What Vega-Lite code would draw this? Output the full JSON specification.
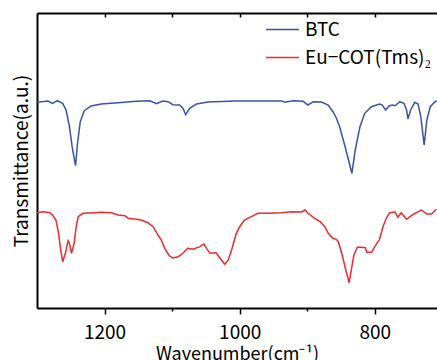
{
  "$schema": "https://vega.github.io/schema/vega-lite/v6.json",
  "width": 400,
  "height": 295,
  "autosize": {"type": "none"},
  "padding": {"left": 37, "top": 13, "right": 0, "bottom": 52},
  "background": "white",
  "config": {
    "view": {"stroke": null},
    "font": "Noto Sans CJK JP",
    "axis": {"grid": false, "domainColor": "black", "domainWidth": 2, "tickColor": "black", "tickWidth": 1.5, "labelColor": "black", "titleColor": "black", "labelFont": "Noto Sans CJK JP", "titleFont": "Noto Sans CJK JP", "titleFontWeight": "normal"}
  },
  "data": {
    "values": [
      {"wn": 1300, "t": 205.7, "s": "BTC"},
      {"wn": 1284, "t": 207, "s": "BTC"},
      {"wn": 1277, "t": 204.7, "s": "BTC"},
      {"wn": 1270, "t": 207.3, "s": "BTC"},
      {"wn": 1262, "t": 204.7, "s": "BTC"},
      {"wn": 1257, "t": 198, "s": "BTC"},
      {"wn": 1252, "t": 181.3, "s": "BTC"},
      {"wn": 1248, "t": 161.3, "s": "BTC"},
      {"wn": 1243, "t": 142.3, "s": "BTC"},
      {"wn": 1240, "t": 165, "s": "BTC"},
      {"wn": 1236, "t": 186.3, "s": "BTC"},
      {"wn": 1230, "t": 197.3, "s": "BTC"},
      {"wn": 1220, "t": 202, "s": "BTC"},
      {"wn": 1205, "t": 204, "s": "BTC"},
      {"wn": 1180, "t": 205.3, "s": "BTC"},
      {"wn": 1153, "t": 206.7, "s": "BTC"},
      {"wn": 1133, "t": 207.3, "s": "BTC"},
      {"wn": 1123, "t": 204.3, "s": "BTC"},
      {"wn": 1114, "t": 207, "s": "BTC"},
      {"wn": 1106, "t": 206.3, "s": "BTC"},
      {"wn": 1099, "t": 203.3, "s": "BTC"},
      {"wn": 1089, "t": 203, "s": "BTC"},
      {"wn": 1084, "t": 199.7, "s": "BTC"},
      {"wn": 1080, "t": 193.3, "s": "BTC"},
      {"wn": 1074, "t": 199.7, "s": "BTC"},
      {"wn": 1064, "t": 204, "s": "BTC"},
      {"wn": 1047, "t": 206, "s": "BTC"},
      {"wn": 1007, "t": 207, "s": "BTC"},
      {"wn": 938, "t": 207, "s": "BTC"},
      {"wn": 933, "t": 205.7, "s": "BTC"},
      {"wn": 921, "t": 207.3, "s": "BTC"},
      {"wn": 906, "t": 206.7, "s": "BTC"},
      {"wn": 899, "t": 203, "s": "BTC"},
      {"wn": 891, "t": 206.3, "s": "BTC"},
      {"wn": 879, "t": 206, "s": "BTC"},
      {"wn": 869, "t": 203, "s": "BTC"},
      {"wn": 862, "t": 196.3, "s": "BTC"},
      {"wn": 857, "t": 190, "s": "BTC"},
      {"wn": 852, "t": 181, "s": "BTC"},
      {"wn": 844, "t": 161.3, "s": "BTC"},
      {"wn": 834, "t": 134.7, "s": "BTC"},
      {"wn": 829, "t": 158, "s": "BTC"},
      {"wn": 822, "t": 181.3, "s": "BTC"},
      {"wn": 815, "t": 194.7, "s": "BTC"},
      {"wn": 805, "t": 201.3, "s": "BTC"},
      {"wn": 793, "t": 204, "s": "BTC"},
      {"wn": 789, "t": 203, "s": "BTC"},
      {"wn": 784, "t": 198, "s": "BTC"},
      {"wn": 779, "t": 202, "s": "BTC"},
      {"wn": 774, "t": 203, "s": "BTC"},
      {"wn": 770, "t": 202.3, "s": "BTC"},
      {"wn": 763, "t": 206.3, "s": "BTC"},
      {"wn": 757, "t": 204.7, "s": "BTC"},
      {"wn": 753, "t": 198, "s": "BTC"},
      {"wn": 751, "t": 189, "s": "BTC"},
      {"wn": 747, "t": 198, "s": "BTC"},
      {"wn": 741, "t": 205.7, "s": "BTC"},
      {"wn": 736, "t": 204, "s": "BTC"},
      {"wn": 732, "t": 191.3, "s": "BTC"},
      {"wn": 727, "t": 163, "s": "BTC"},
      {"wn": 723, "t": 188, "s": "BTC"},
      {"wn": 718, "t": 201.3, "s": "BTC"},
      {"wn": 711, "t": 206.3, "s": "BTC"},
      {"wn": 708, "t": 207, "s": "BTC"},
      {"wn": 1300, "t": 95.3, "s": "Eu−COT(Tms)₂"},
      {"wn": 1291, "t": 96.3, "s": "Eu−COT(Tms)₂"},
      {"wn": 1281, "t": 95.3, "s": "Eu−COT(Tms)₂"},
      {"wn": 1277, "t": 93, "s": "Eu−COT(Tms)₂"},
      {"wn": 1272, "t": 88, "s": "Eu−COT(Tms)₂"},
      {"wn": 1268, "t": 74.7, "s": "Eu−COT(Tms)₂"},
      {"wn": 1265, "t": 58, "s": "Eu−COT(Tms)₂"},
      {"wn": 1262, "t": 46.3, "s": "Eu−COT(Tms)₂"},
      {"wn": 1258, "t": 54.7, "s": "Eu−COT(Tms)₂"},
      {"wn": 1254, "t": 67.3, "s": "Eu−COT(Tms)₂"},
      {"wn": 1252, "t": 64.7, "s": "Eu−COT(Tms)₂"},
      {"wn": 1249, "t": 54.7, "s": "Eu−COT(Tms)₂"},
      {"wn": 1245, "t": 64.7, "s": "Eu−COT(Tms)₂"},
      {"wn": 1242, "t": 81.3, "s": "Eu−COT(Tms)₂"},
      {"wn": 1239, "t": 91.3, "s": "Eu−COT(Tms)₂"},
      {"wn": 1232, "t": 94.7, "s": "Eu−COT(Tms)₂"},
      {"wn": 1215, "t": 95.3, "s": "Eu−COT(Tms)₂"},
      {"wn": 1205, "t": 95.7, "s": "Eu−COT(Tms)₂"},
      {"wn": 1190, "t": 95.3, "s": "Eu−COT(Tms)₂"},
      {"wn": 1180, "t": 93, "s": "Eu−COT(Tms)₂"},
      {"wn": 1170, "t": 92.3, "s": "Eu−COT(Tms)₂"},
      {"wn": 1165, "t": 89.7, "s": "Eu−COT(Tms)₂"},
      {"wn": 1153, "t": 88.7, "s": "Eu−COT(Tms)₂"},
      {"wn": 1146, "t": 88, "s": "Eu−COT(Tms)₂"},
      {"wn": 1136, "t": 85.3, "s": "Eu−COT(Tms)₂"},
      {"wn": 1128, "t": 81.3, "s": "Eu−COT(Tms)₂"},
      {"wn": 1121, "t": 73, "s": "Eu−COT(Tms)₂"},
      {"wn": 1116, "t": 68, "s": "Eu−COT(Tms)₂"},
      {"wn": 1111, "t": 59.7, "s": "Eu−COT(Tms)₂"},
      {"wn": 1104, "t": 52, "s": "Eu−COT(Tms)₂"},
      {"wn": 1099, "t": 50, "s": "Eu−COT(Tms)₂"},
      {"wn": 1091, "t": 51.3, "s": "Eu−COT(Tms)₂"},
      {"wn": 1084, "t": 54.7, "s": "Eu−COT(Tms)₂"},
      {"wn": 1077, "t": 59.7, "s": "Eu−COT(Tms)₂"},
      {"wn": 1069, "t": 58.7, "s": "Eu−COT(Tms)₂"},
      {"wn": 1059, "t": 61.3, "s": "Eu−COT(Tms)₂"},
      {"wn": 1053, "t": 64, "s": "Eu−COT(Tms)₂"},
      {"wn": 1049, "t": 59.7, "s": "Eu−COT(Tms)₂"},
      {"wn": 1044, "t": 54.7, "s": "Eu−COT(Tms)₂"},
      {"wn": 1035, "t": 55.3, "s": "Eu−COT(Tms)₂"},
      {"wn": 1028, "t": 48.7, "s": "Eu−COT(Tms)₂"},
      {"wn": 1022, "t": 43.7, "s": "Eu−COT(Tms)₂"},
      {"wn": 1017, "t": 48, "s": "Eu−COT(Tms)₂"},
      {"wn": 1012, "t": 58, "s": "Eu−COT(Tms)₂"},
      {"wn": 1005, "t": 74.7, "s": "Eu−COT(Tms)₂"},
      {"wn": 1000, "t": 81.3, "s": "Eu−COT(Tms)₂"},
      {"wn": 993, "t": 88, "s": "Eu−COT(Tms)₂"},
      {"wn": 983, "t": 91.3, "s": "Eu−COT(Tms)₂"},
      {"wn": 973, "t": 94.7, "s": "Eu−COT(Tms)₂"},
      {"wn": 958, "t": 94.7, "s": "Eu−COT(Tms)₂"},
      {"wn": 938, "t": 95.3, "s": "Eu−COT(Tms)₂"},
      {"wn": 923, "t": 96.3, "s": "Eu−COT(Tms)₂"},
      {"wn": 909, "t": 96, "s": "Eu−COT(Tms)₂"},
      {"wn": 903, "t": 98, "s": "Eu−COT(Tms)₂"},
      {"wn": 899, "t": 94.7, "s": "Eu−COT(Tms)₂"},
      {"wn": 889, "t": 89.7, "s": "Eu−COT(Tms)₂"},
      {"wn": 881, "t": 86.3, "s": "Eu−COT(Tms)₂"},
      {"wn": 874, "t": 81.3, "s": "Eu−COT(Tms)₂"},
      {"wn": 869, "t": 74.7, "s": "Eu−COT(Tms)₂"},
      {"wn": 862, "t": 69.7, "s": "Eu−COT(Tms)₂"},
      {"wn": 857, "t": 68.7, "s": "Eu−COT(Tms)₂"},
      {"wn": 854, "t": 66.3, "s": "Eu−COT(Tms)₂"},
      {"wn": 849, "t": 54.7, "s": "Eu−COT(Tms)₂"},
      {"wn": 843, "t": 38, "s": "Eu−COT(Tms)₂"},
      {"wn": 838, "t": 25.3, "s": "Eu−COT(Tms)₂"},
      {"wn": 834, "t": 41.3, "s": "Eu−COT(Tms)₂"},
      {"wn": 831, "t": 53, "s": "Eu−COT(Tms)₂"},
      {"wn": 826, "t": 60.7, "s": "Eu−COT(Tms)₂"},
      {"wn": 820, "t": 60.7, "s": "Eu−COT(Tms)₂"},
      {"wn": 814, "t": 60.3, "s": "Eu−COT(Tms)₂"},
      {"wn": 812, "t": 55.7, "s": "Eu−COT(Tms)₂"},
      {"wn": 805, "t": 55.7, "s": "Eu−COT(Tms)₂"},
      {"wn": 797, "t": 64.7, "s": "Eu−COT(Tms)₂"},
      {"wn": 793, "t": 68.7, "s": "Eu−COT(Tms)₂"},
      {"wn": 788, "t": 81.3, "s": "Eu−COT(Tms)₂"},
      {"wn": 783, "t": 89.7, "s": "Eu−COT(Tms)₂"},
      {"wn": 778, "t": 95.3, "s": "Eu−COT(Tms)₂"},
      {"wn": 770, "t": 96, "s": "Eu−COT(Tms)₂"},
      {"wn": 766, "t": 90.7, "s": "Eu−COT(Tms)₂"},
      {"wn": 761, "t": 95.3, "s": "Eu−COT(Tms)₂"},
      {"wn": 753, "t": 88.7, "s": "Eu−COT(Tms)₂"},
      {"wn": 748, "t": 91.3, "s": "Eu−COT(Tms)₂"},
      {"wn": 741, "t": 94.7, "s": "Eu−COT(Tms)₂"},
      {"wn": 731, "t": 98, "s": "Eu−COT(Tms)₂"},
      {"wn": 723, "t": 94, "s": "Eu−COT(Tms)₂"},
      {"wn": 716, "t": 94, "s": "Eu−COT(Tms)₂"},
      {"wn": 709, "t": 98.7, "s": "Eu−COT(Tms)₂"}
    ]
  },
  "layer": [
    {
      "mark": {"type": "line", "strokeWidth": 1.5, "clip": true},
      "encoding": {
        "x": {
          "field": "wn", "type": "quantitative",
          "scale": {"domain": [708, 1300], "reverse": true, "nice": false, "zero": false},
          "axis": {
            "orient": "bottom",
            "values": [1200, 1100, 1000, 900, 800],
            "labelExpr": "datum.value % 200 === 0 ? datum.label : ''",
            "format": "d",
            "tickSize": {"condition": {"test": "datum.value % 200 === 0", "value": 6}, "value": 3},
            "labelFontSize": 19,
            "labelPadding": 9,
            "title": "Wavenumber(cm⁻¹)",
            "titleFontSize": 18,
            "titlePadding": 3
          }
        },
        "y": {
          "field": "t", "type": "quantitative",
          "scale": {"domain": [0, 295], "nice": false},
          "axis": {
            "orient": "left",
            "labels": false,
            "ticks": false,
            "title": "Transmittance(a.u.)",
            "titleFontSize": 19,
            "titlePadding": 6
          }
        },
        "color": {
          "field": "s", "type": "nominal",
          "scale": {"domain": ["BTC", "Eu−COT(Tms)₂"], "range": ["#3c52a8", "#ee2a2e"]},
          "legend": {
            "orient": "none",
            "legendX": 228,
            "legendY": -1,
            "title": null,
            "symbolType": "stroke",
            "symbolSize": 1089,
            "symbolStrokeWidth": 1.5,
            "labelFontSize": 19,
            "labelFont": "Noto Sans CJK JP",
            "labelColor": "black",
            "labelOffset": 5,
            "rowPadding": 0,
            "labelLimit": 300
          }
        }
      }
    },
    {
      "mark": {"type": "line", "opacity": 0},
      "encoding": {
        "x": {
          "field": "wn", "type": "quantitative",
          "axis": {
            "orient": "bottom",
            "offset": -295,
            "values": [1200, 1100, 1000, 900, 800],
            "labels": false,
            "tickSize": 4,
            "title": null
          }
        },
        "y": {
          "field": "t", "type": "quantitative",
          "axis": {
            "orient": "left",
            "labels": false,
            "ticks": false,
            "title": "Transmittance(a.u.)",
            "titleFontSize": 19,
            "titlePadding": 6
          }
        }
      }
    }
  ],
  "resolve": {"axis": {"x": "independent"}}
}
